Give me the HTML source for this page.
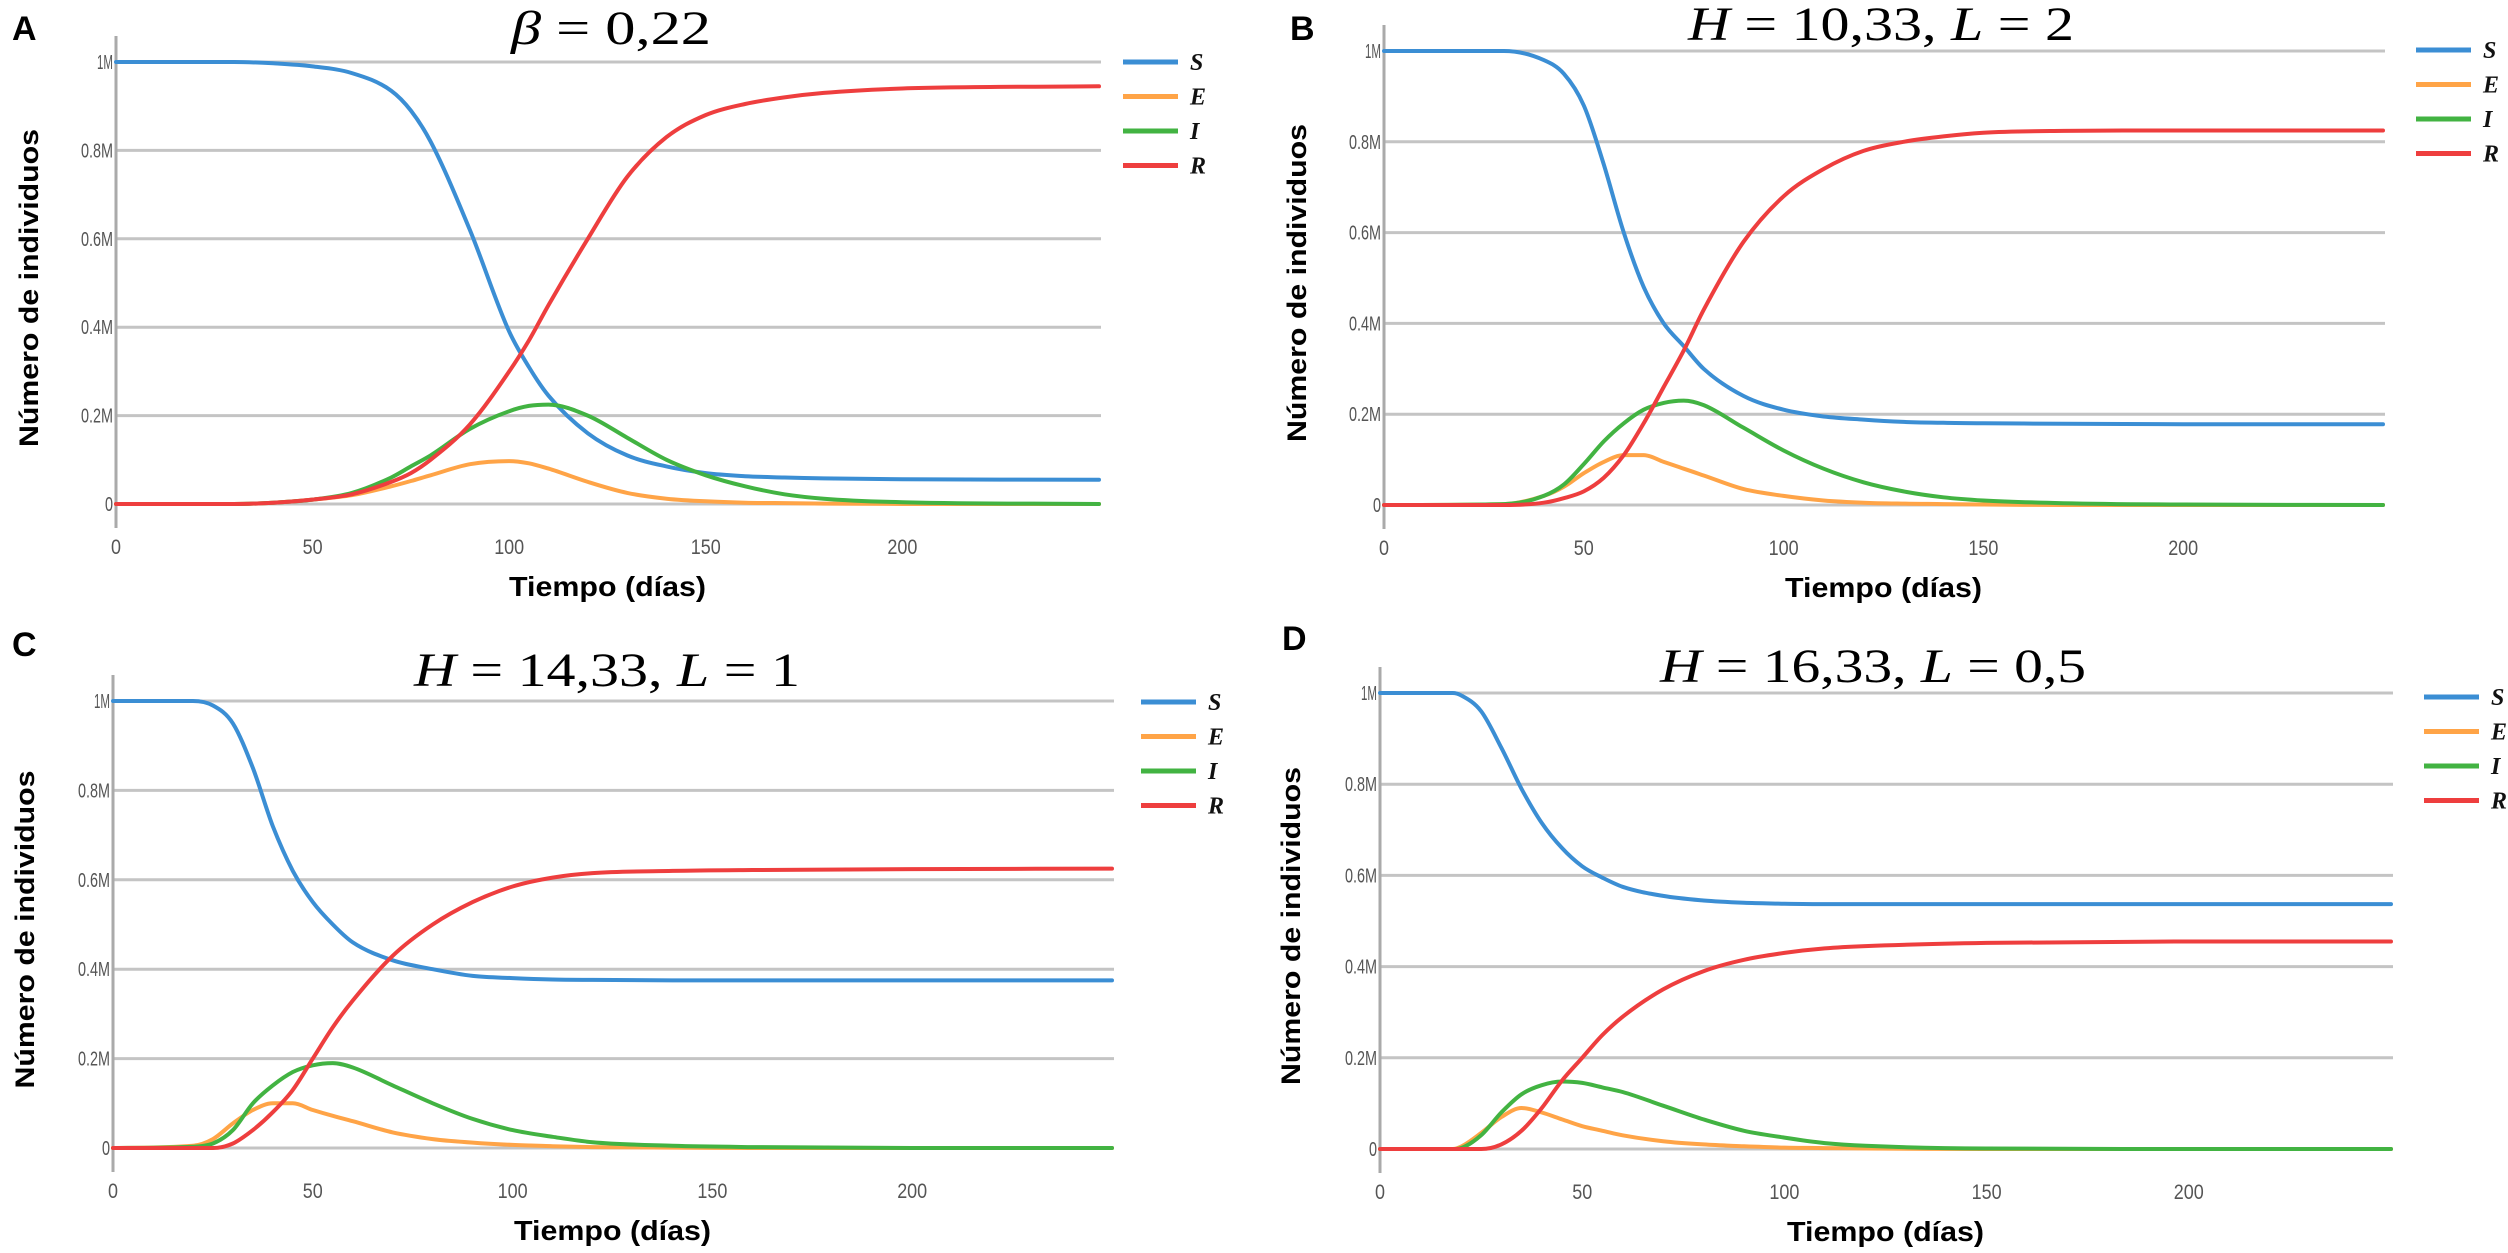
<!DOCTYPE html>
<html><head><meta charset="utf-8"><title>SEIR</title>
<style>
html,body{margin:0;padding:0;background:#fff;}
svg{display:block;}
</style></head>
<body>
<svg id="chart" xmlns="http://www.w3.org/2000/svg" width="2508" height="1253" viewBox="0 0 2508 1253"></svg>
<script>
// ---- data ----
const yTicks = [0, 0.2, 0.4, 0.6, 0.8, 1];
const yTickLabels = ["0", "0.2M", "0.4M", "0.6M", "0.8M", "1M"];
const xTicks = [0, 50, 100, 150, 200];
const xTickLabels = ["0", "50", "100", "150", "200"];
const seriesNames = ["S", "E", "I", "R"];
const seriesColors = ["#3b8ed4", "#ffa447", "#42b342", "#ee3e3e"];

const daysA = [0,30,40,50,60,70,75,80,90,100,105,110,120,130,140,150,160,170,180,200,250];
const sA = [1,1,0.997,0.99,0.975,0.935,0.89,0.82,0.62,0.39,0.31,0.245,0.16,0.11,0.085,0.07,0.063,0.06,0.058,0.056,0.055];
const eA = [0,0,0.003,0.01,0.02,0.04,0.052,0.065,0.09,0.097,0.092,0.08,0.05,0.025,0.012,0.006,0.003,0.002,0.001,0,0];
const iA = [0,0,0.003,0.01,0.025,0.06,0.085,0.11,0.17,0.21,0.222,0.225,0.2,0.15,0.1,0.065,0.04,0.022,0.012,0.004,0];
const rA = [0,0,0.003,0.01,0.022,0.05,0.07,0.1,0.18,0.3,0.37,0.45,0.6,0.74,0.83,0.88,0.905,0.92,0.93,0.94,0.945];

const daysB = [0,30,40,45,50,55,60,65,70,75,80,90,100,110,120,130,140,150,170,200,250];
const sB = [1,1,0.98,0.95,0.88,0.75,0.6,0.48,0.4,0.35,0.3,0.24,0.21,0.195,0.188,0.183,0.181,0.18,0.179,0.178,0.178];
const eB = [0,0.002,0.02,0.04,0.07,0.095,0.11,0.11,0.095,0.08,0.065,0.035,0.02,0.01,0.005,0.003,0.002,0.001,0,0,0];
const iB = [0,0.002,0.02,0.045,0.09,0.14,0.18,0.21,0.225,0.23,0.22,0.17,0.12,0.08,0.05,0.03,0.017,0.01,0.004,0.001,0];
const rB = [0,0,0.005,0.015,0.03,0.06,0.11,0.18,0.26,0.34,0.43,0.58,0.68,0.74,0.78,0.8,0.812,0.82,0.824,0.825,0.825];

const daysC = [0,20,25,30,35,40,45,50,55,60,70,80,90,100,110,120,140,160,200,250];
const sC = [1,1,0.99,0.95,0.85,0.72,0.62,0.55,0.5,0.46,0.42,0.4,0.385,0.38,0.377,0.376,0.375,0.375,0.375,0.375];
const eC = [0,0.005,0.02,0.055,0.085,0.1,0.1,0.085,0.072,0.06,0.035,0.02,0.012,0.007,0.004,0.002,0.001,0,0,0];
const iC = [0,0.003,0.01,0.04,0.1,0.14,0.17,0.185,0.19,0.18,0.14,0.1,0.065,0.04,0.025,0.013,0.005,0.002,0,0];
const rC = [0,0,0,0.01,0.04,0.08,0.13,0.2,0.27,0.33,0.43,0.5,0.55,0.585,0.605,0.615,0.62,0.622,0.624,0.625];

const daysD = [0,18,20,25,30,35,40,45,50,55,60,70,80,90,100,110,120,150,200,250];
const sD = [1,1,0.995,0.96,0.88,0.79,0.715,0.66,0.62,0.595,0.575,0.555,0.545,0.54,0.538,0.537,0.537,0.537,0.537,0.537];
const eD = [0,0,0.005,0.035,0.07,0.09,0.08,0.065,0.05,0.04,0.03,0.017,0.01,0.006,0.003,0.002,0.001,0,0,0];
const iD = [0,0,0.002,0.03,0.08,0.12,0.14,0.148,0.145,0.135,0.125,0.095,0.065,0.04,0.025,0.013,0.007,0.001,0,0];
const rD = [0,0,0,0,0.01,0.04,0.09,0.15,0.2,0.25,0.29,0.35,0.39,0.415,0.43,0.44,0.445,0.452,0.455,0.455];

const panelLetters = ["A", "B", "C", "D"];
const xMax = 250;

// ---- layout ----
const NS = "http://www.w3.org/2000/svg";
const svg = document.getElementById("chart");
const panels = [
  {letter:"A", lx:12, ly:40, x0:116, x1:1099, yTop:62, yBot:504, legX:1123, legY:62, ytx:28,
   days:daysA, series:[sA,eA,iA,rA], title:[["β",true]," = 0,22"], tx:611, ty:44, tw:200},
  {letter:"B", lx:1290, ly:40, x0:1384, x1:2383, yTop:51, yBot:505, legX:2416, legY:50, ytx:1296,
   days:daysB, series:[sB,eB,iB,rB], title:[["H",true]," = 10,33, ",["L",true]," = 2"], tx:1881, ty:40, tw:386},
  {letter:"C", lx:12, ly:656, x0:113, x1:1112, yTop:701, yBot:1148, legX:1141, legY:702, ytx:24,
   days:daysC, series:[sC,eC,iC,rC], title:[["H",true]," = 14,33, ",["L",true]," = 1"], tx:607, ty:686, tw:386},
  {letter:"D", lx:1282, ly:650, x0:1380, x1:2391, yTop:693, yBot:1149, legX:2424, legY:697, ytx:1290,
   days:daysD, series:[sD,eD,iD,rD], title:[["H",true]," = 16,33, ",["L",true]," = 0,5"], tx:1873, ty:682, tw:426}
];

function mk(tag, attrs, parent) {
  const el = document.createElementNS(NS, tag);
  for (const k in attrs) el.setAttribute(k, attrs[k]);
  (parent || svg).appendChild(el);
  return el;
}

// monotone cubic path
function monoPath(xs, ys) {
  const n = xs.length, d = [], m = [];
  for (let i = 0; i < n - 1; i++) d.push((ys[i+1]-ys[i])/(xs[i+1]-xs[i]));
  m.push(d[0]);
  for (let i = 1; i < n - 1; i++) m.push(d[i-1]*d[i] <= 0 ? 0 : (d[i-1]+d[i])/2);
  m.push(d[n-2]);
  for (let i = 0; i < n - 1; i++) {
    if (d[i] === 0) { m[i] = 0; m[i+1] = 0; continue; }
    const a = m[i]/d[i], b = m[i+1]/d[i], s = a*a + b*b;
    if (s > 9) { const t = 3/Math.sqrt(s); m[i] = t*a*d[i]; m[i+1] = t*b*d[i]; }
  }
  let p = "M" + xs[0].toFixed(1) + "," + ys[0].toFixed(1);
  for (let i = 0; i < n - 1; i++) {
    const h = (xs[i+1]-xs[i])/3;
    p += " C" + (xs[i]+h).toFixed(1) + "," + (ys[i]+m[i]*h).toFixed(1) + " " +
         (xs[i+1]-h).toFixed(1) + "," + (ys[i+1]-m[i+1]*h).toFixed(1) + " " +
         xs[i+1].toFixed(1) + "," + ys[i+1].toFixed(1);
  }
  return p;
}

panels.forEach((P, pi) => {
  const g = mk("g", {});
  
  
  const xs = d => P.x0 + (d / xMax) * (P.x1 - P.x0);
  const ys = v => P.yBot - v * (P.yBot - P.yTop);

  const L = mk("text", {x:P.lx, y:P.ly, "font-family":"Liberation Sans, sans-serif", "font-weight":"bold", "font-size":"34", fill:"#000"}, g);
  L.textContent = panelLetters[pi];
  
  

  const T = mk("text", {x:P.tx, y:P.ty, "text-anchor":"middle", "font-family":"Liberation Serif, serif", "font-size":"48", fill:"#000", textLength:P.tw, lengthAdjust:"spacingAndGlyphs"}, g);
  P.title.forEach(part => {
    const ts = mk("tspan", {}, T);
    if (Array.isArray(part)) { ts.textContent = part[0]; ts.setAttribute("font-style", "italic"); }
    else ts.textContent = part;
  });
  
  

  yTicks.forEach((v, i) => {
    const gl = mk("line", {x1:P.x0, x2:P.x1 + 2, y1:ys(v), y2:ys(v), stroke:"#c4c4c4", "stroke-width":"3"}, g);
    
    
    const tl = mk("text", {x:P.x0 - 3, y:ys(v) + 7, "text-anchor":"end", "font-family":"Liberation Sans, sans-serif", "font-size":"20", fill:"#555", textLength: yTickLabels[i].length * 8, lengthAdjust:"spacingAndGlyphs"}, g);
    tl.textContent = yTickLabels[i];
    
    
  });
  const ax = mk("line", {x1:P.x0, x2:P.x0, y1:P.yTop - 26, y2:P.yBot + 24, stroke:"#aaa", "stroke-width":"3"}, g);
  
  

  xTicks.forEach((d, i) => {
    const t = mk("text", {x:xs(d), y:P.yBot + 50, "text-anchor":"middle", "font-family":"Liberation Sans, sans-serif", "font-size":"21", fill:"#555", textLength: xTickLabels[i].length * 10, lengthAdjust:"spacingAndGlyphs"}, g);
    t.textContent = xTickLabels[i];
    
    
  });

  const xt = mk("text", {x:(P.x0 + P.x1) / 2, y:P.yBot + 92, "text-anchor":"middle", "font-family":"Liberation Sans, sans-serif", "font-weight":"bold", "font-size":"28", fill:"#000", textLength:"197", lengthAdjust:"spacingAndGlyphs"}, g);
  xt.textContent = "Tiempo (días)";
  
  
  const cy = (P.yTop + P.yBot) / 2 + 5;
  const yt = mk("text", {x:0, y:0, transform:"translate(" + (P.ytx + 10) + "," + cy + ") rotate(-90)", "text-anchor":"middle", "font-family":"Liberation Sans, sans-serif", "font-weight":"bold", "font-size":"27", fill:"#000", textLength:"318", lengthAdjust:"spacingAndGlyphs"}, g);
  yt.textContent = "Número de individuos";
  
  

  P.series.forEach((vals, si) => {
    const path = mk("path", {d:monoPath(P.days.map(xs), vals.map(ys)), fill:"none", stroke:seriesColors[si], "stroke-width":"4", "stroke-linejoin":"round", "stroke-linecap":"round"}, g);
    
    
  });

  seriesNames.forEach((nm, si) => {
    const yy = P.legY + si * 34.5;
    const ll = mk("line", {x1:P.legX, x2:P.legX + 55, y1:yy, y2:yy, stroke:seriesColors[si], "stroke-width":"5"}, g);
    
    
    const lt = mk("text", {x:P.legX + 67, y:yy + 8, "font-family":"Liberation Serif, serif", "font-style":"italic", "font-weight":"bold", "font-size":"24", fill:"#111"}, g);
    lt.textContent = nm;
    
    
  });
});
</script>
</body></html>
